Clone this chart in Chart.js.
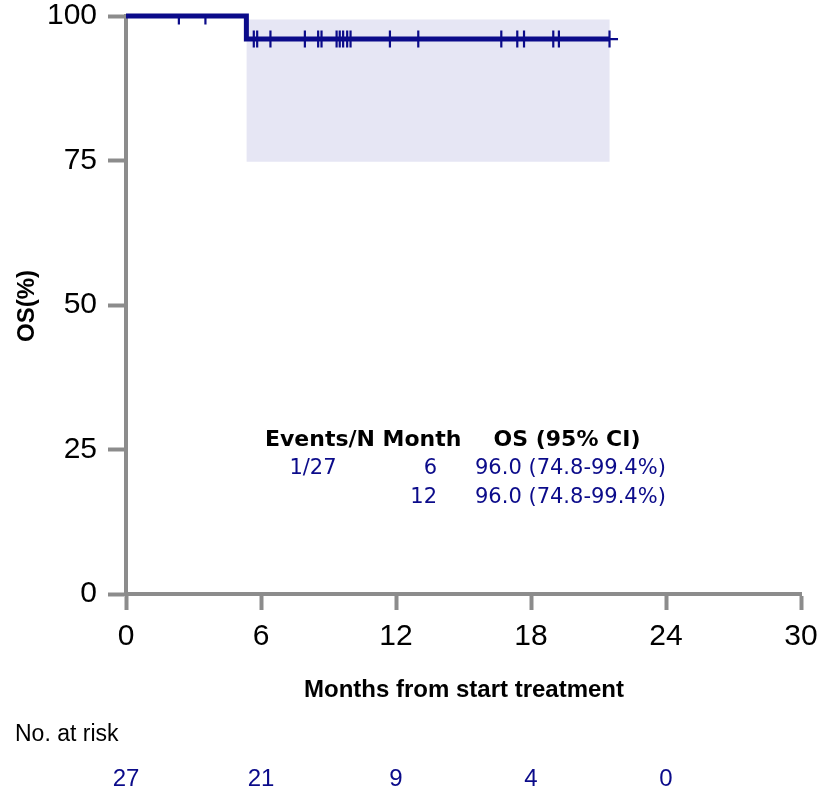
<!DOCTYPE html>
<html>
<head>
<meta charset="utf-8">
<script src="https://cdn.jsdelivr.net/npm/chart.js@4/dist/chart.umd.min.js"></script>
<style>
  html, body { margin: 0; padding: 0; background: #fff; }
  #wrap { width: 825px; height: 796px; position: relative; }
</style>
</head>
<body>
<div id="wrap"><canvas id="kmChart" width="825" height="796"></canvas></div>
<script>
// Kaplan-Meier OS curve (months, %)
const stepTimes = [0, 5.35, 21.5];
const stepSurv = [100, 96, 96];

// censored observations
const censorTimes = [2.35, 3.53, 5.68, 5.83, 6.42, 7.95, 8.54, 8.69, 9.36, 9.50, 9.65, 9.83, 9.98, 11.73, 12.99, 16.68, 17.39, 17.69, 18.99, 19.24, 21.49];
const censorSurv = [100, 100, 96, 96, 96, 96, 96, 96, 96, 96, 96, 96, 96, 96, 96, 96, 96, 96, 96, 96, 96];

// 95% confidence band
const ciTimes = [5.35, 21.5];
const ciUpper = [99.4, 99.4];
const ciLower = 74.8;

const xTicks = [0, 6, 12, 18, 24, 30];
const yTicks = [0, 25, 50, 75, 100];

const riskTimes = [0, 6, 12, 18, 24];
const riskCounts = [27, 21, 9, 4, 0];

const tableHeader = ['Events/N', 'Month', 'OS (95% CI)'];
const tableRows = [
    ['1/27', '6', '96.0 (74.8-99.4%)'],
    ['', '12', '96.0 (74.8-99.4%)']
];

const NAVY = '#0b0b8a';
const AXIS = '#8c8c8c';
const SANS = '"Liberation Sans", Arial, sans-serif';
const WIDE = '"DejaVu Sans", Verdana, sans-serif';

const toPoints = (xs, ys) => xs.map((x, i) => ({ x: x, y: ys[i] }));

// titles, at-risk row and the summary table
const extraText = {
    id: 'extraText',
    afterDraw(chart) {
        const ctx = chart.ctx;
        const xs = chart.scales.x;
        ctx.save();
        ctx.textBaseline = 'middle';

        // y title
        ctx.save();
        ctx.translate(27, 306);
        ctx.rotate(-Math.PI / 2);
        ctx.font = 'bold 24px ' + SANS;
        ctx.fillStyle = '#000';
        ctx.textAlign = 'center';
        ctx.fillText('OS(%)', 0, 0);
        ctx.restore();

        // x title
        ctx.font = 'bold 24px ' + SANS;
        ctx.fillStyle = '#000';
        ctx.textAlign = 'center';
        ctx.fillText('Months from start treatment', 464, 690);

        // no. at risk
        ctx.font = '23px ' + SANS;
        ctx.textAlign = 'left';
        ctx.fillText('No. at risk', 15, 735);
        ctx.font = '24px ' + SANS;
        ctx.fillStyle = NAVY;
        ctx.textAlign = 'center';
        riskTimes.forEach((t, i) => {
            ctx.fillText(String(riskCounts[i]), xs.getPixelForValue(t), 779);
        });

        // summary table
        ctx.font = 'bold 22px ' + WIDE;
        ctx.fillStyle = '#000';
        ctx.textAlign = 'center';
        ctx.fillText(tableHeader[0], 320, 440);
        ctx.fillText(tableHeader[1], 422, 440);
        ctx.fillText(tableHeader[2], 567, 440);
        ctx.font = '21px ' + WIDE;
        ctx.fillStyle = NAVY;
        tableRows.forEach((row, i) => {
            const y = 469 + i * 29;
            ctx.textAlign = 'center';
            ctx.fillText(row[0], 313, y);
            ctx.textAlign = 'right';
            ctx.fillText(row[1], 437, y);
            ctx.textAlign = 'left';
            ctx.fillText(row[2], 475, y);
        });
        ctx.restore();
    }
};

new Chart(document.getElementById('kmChart').getContext('2d'), {
    type: 'line',
    data: {
        datasets: [
            {
                label: 'Censored',
                type: 'scatter',
                data: toPoints(censorTimes, censorSurv),
                pointStyle: 'cross',
                pointRadius: 8.5,
                pointBorderWidth: 2.2,
                pointBorderColor: NAVY,
                pointBackgroundColor: NAVY,
                clip: 0,
                order: 0
            },
            {
                label: 'OS',
                data: toPoints(stepTimes, stepSurv),
                stepped: 'before',
                borderColor: NAVY,
                borderWidth: 5,
                pointRadius: 0,
                fill: false,
                clip: false,
                order: 1
            },
            {
                label: '95% CI',
                data: toPoints(ciTimes, ciUpper),
                borderWidth: 0,
                borderColor: 'rgba(0,0,0,0)',
                pointRadius: 0,
                fill: { value: ciLower },
                backgroundColor: '#e6e6f4',
                order: 2
            }
        ]
    },
    options: {
        responsive: false,
        animation: false,
        events: [],
        layout: { padding: { top: 16, right: 24, left: 0, bottom: 0 } },
        plugins: {
            legend: { display: false },
            tooltip: { enabled: false }
        },
        scales: {
            x: {
                type: 'linear',
                min: 0,
                max: 30,
                afterBuildTicks: scale => { scale.ticks = xTicks.map(v => ({ value: v })); },
                afterFit: scale => {
                    scale.height = 202;
                    scale.paddingLeft = 0;
                    scale.paddingRight = 0;
                },
                ticks: {
                    color: '#000',
                    font: { family: SANS, size: 30 },
                    padding: 9,
                    maxRotation: 0
                },
                grid: {
                    drawOnChartArea: false,
                    drawTicks: true,
                    tickLength: 16,
                    tickColor: AXIS,
                    tickWidth: 4
                },
                border: { color: AXIS, width: 4 }
            },
            y: {
                min: 0,
                max: 100,
                afterBuildTicks: scale => { scale.ticks = yTicks.map(v => ({ value: v })); },
                afterFit: scale => {
                    scale.width = 126;
                    scale.paddingTop = 0;
                    scale.paddingBottom = 0;
                },
                ticks: {
                    color: '#000',
                    font: { family: SANS, size: 30 },
                    padding: 11
                },
                grid: {
                    drawOnChartArea: false,
                    drawTicks: true,
                    tickLength: 18,
                    tickColor: AXIS,
                    tickWidth: 4
                },
                border: { color: AXIS, width: 4 }
            }
        }
    },
    plugins: [extraText]
});
</script>
</body>
</html>
